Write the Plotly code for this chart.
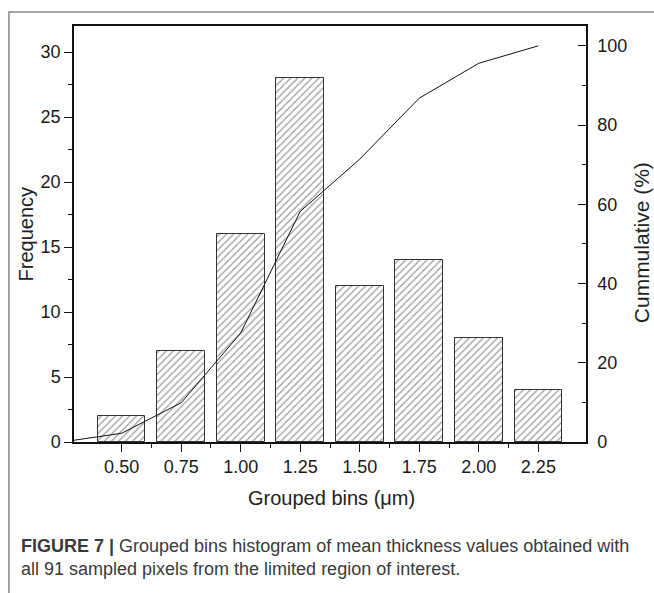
import plotly.graph_objects as go

# ---- data ----
bins = [0.50, 0.75, 1.00, 1.25, 1.50, 1.75, 2.00, 2.25]
frequency = [2, 7, 16, 28, 12, 14, 8, 4]
cum_x = [0.25, 0.50, 0.75, 1.00, 1.25, 1.50, 1.75, 2.00, 2.25]
cumulative = [0.0, 2.2, 9.9, 27.5, 58.2, 71.4, 86.8, 95.6, 100.0]
bin_tick_text = ["0.50", "0.75", "1.00", "1.25", "1.50", "1.75", "2.00", "2.25"]
minor_x = [(a + b) / 2 for a, b in zip(bins[:-1], bins[1:])]

FONT = "Liberation Sans, Arial, Helvetica, sans-serif"

fig = go.Figure()
fig.add_trace(go.Bar(
    x=bins, y=frequency, width=0.2,
    marker=dict(
        color="white",
        line=dict(color="#333333", width=1),
        pattern=dict(shape="/", size=5, solidity=0.28, fgcolor="#444444", bgcolor="white"),
    ),
    showlegend=False, hoverinfo="skip",
))
fig.add_trace(go.Scatter(
    x=cum_x, y=cumulative, yaxis="y2", mode="lines",
    line=dict(color="#111111", width=1),
    showlegend=False, hoverinfo="skip",
))

L, R, T, B = 74.3, 585.7, 26.0, 442.3
pw, ph = R - L, B - T
def px_to_paper_x(px):
    return (px - L) / pw
def px_to_paper_y(py):
    return (B - py) / ph

# outer frame of the figure panel (gray)
fig.add_shape(type="rect", xref="paper", yref="paper",
              x0=px_to_paper_x(9.3), x1=px_to_paper_x(700),
              y0=px_to_paper_y(650), y1=px_to_paper_y(12),
              line=dict(color="#8a8a8a", width=1.5), fillcolor="rgba(0,0,0,0)", layer="below")

# axis titles
fig.add_annotation(xref="paper", yref="paper", x=px_to_paper_x(26), y=px_to_paper_y(234),
                   text="Frequency", textangle=-90, showarrow=False,
                   xanchor="center", yanchor="middle",
                   font=dict(family=FONT, size=20, color="#222"))
fig.add_annotation(xref="paper", yref="paper", x=px_to_paper_x(641), y=px_to_paper_y(243),
                   text="Cummulative (%)", textangle=-90, showarrow=False,
                   xanchor="center", yanchor="middle",
                   font=dict(family=FONT, size=21, color="#222"))
fig.add_annotation(xref="paper", yref="paper", x=px_to_paper_x(331), y=px_to_paper_y(498),
                   text="Grouped bins (μm)", showarrow=False,
                   xanchor="center", yanchor="middle",
                   font=dict(family=FONT, size=20, color="#222"))

# caption
fig.add_annotation(
    xref="paper", yref="paper",
    x=px_to_paper_x(19), y=px_to_paper_y(534),
    xanchor="left", yanchor="top", align="left", showarrow=False,
    text="<b>FIGURE 7 |</b> Grouped bins histogram of mean thickness values obtained with<br>all 91 sampled pixels from the limited region of interest.",
    font=dict(family=FONT, size=18, color="#3a3a3a"),
)

fig.update_layout(
    width=654, height=593, autosize=False,
    margin=dict(l=L, r=654 - R, t=T, b=593 - B, pad=0),
    paper_bgcolor="white", plot_bgcolor="white",
    font=dict(family=FONT, color="#222222"),
    bargap=0,
    xaxis=dict(
        range=[0.3, 2.45], tickmode="array", tickvals=bins, ticktext=bin_tick_text,
        ticks="outside", ticklen=8, tickwidth=1, tickcolor="#111",
        minor=dict(tickmode="array", tickvals=minor_x, ticks="outside", ticklen=4, tickwidth=1, tickcolor="#111", showgrid=False),
        showline=True, linecolor="#111", linewidth=1.5, mirror=True,
        showgrid=False, zeroline=False, automargin=False,
        tickfont=dict(size=18, family=FONT, color="#1a1a1a"),
    ),
    yaxis=dict(
        range=[0, 32], tick0=0, dtick=5,
        ticks="outside", ticklen=8, tickwidth=1, tickcolor="#111",
        minor=dict(dtick=2.5, ticks="outside", ticklen=4, tickwidth=1, tickcolor="#111", showgrid=False),
        showline=True, linecolor="#111", linewidth=1.5,
        showgrid=False, zeroline=False, automargin=False,
        tickfont=dict(size=18, family=FONT, color="#1a1a1a"),
    ),
    yaxis2=dict(
        range=[0, 105], tick0=0, dtick=20, overlaying="y", side="right",
        ticks="inside", ticklen=8, tickwidth=1, tickcolor="#111",
        minor=dict(dtick=10, ticks="inside", ticklen=4, tickwidth=1, tickcolor="#111", showgrid=False),
        showline=True, linecolor="#111", linewidth=1.5,
        showgrid=False, zeroline=False, automargin=False,
        ticklabelstandoff=6,
        tickfont=dict(size=18, family=FONT, color="#1a1a1a"),
    ),
)

fig.write_html(
    "out.html",
    config={"displayModeBar": False},
    post_script="document.body.style.margin='0';document.body.style.overflow='hidden';",
)
